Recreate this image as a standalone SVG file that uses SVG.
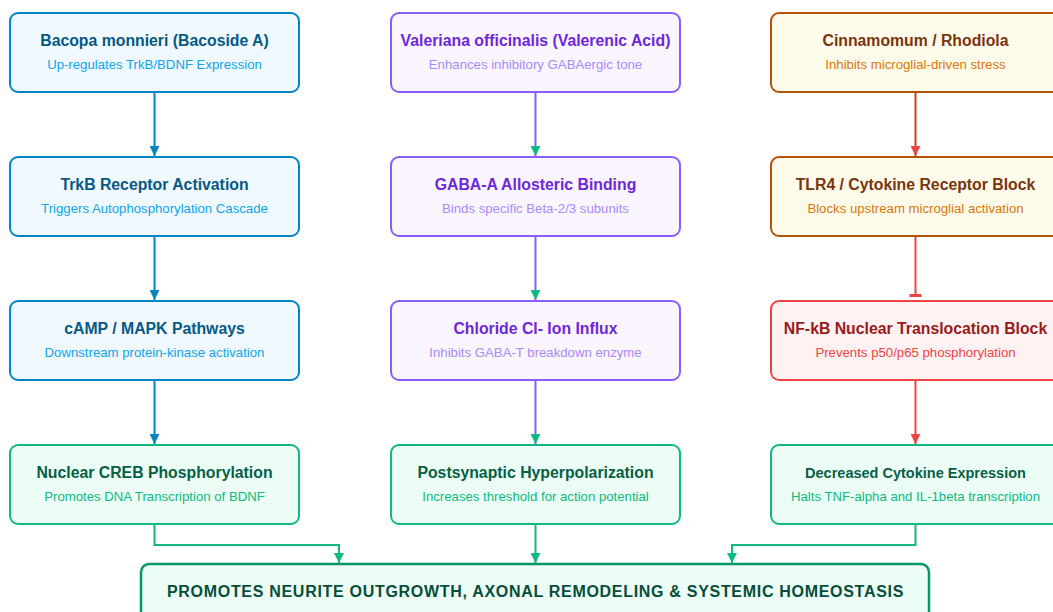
<svg xmlns="http://www.w3.org/2000/svg" width="1053" height="612" viewBox="0 0 1053 612">
<style>
text{font-family:"Liberation Sans",Arial,sans-serif;text-anchor:middle}
.t{font-size:15.8px;font-weight:bold}
.s{font-size:13.2px}
.box{stroke-width:2}
.blue .box{fill:#f0f9ff;stroke:#0284c7}.blue .t{fill:#075985}.blue .s{fill:#0ea5e9}
.purp .box{fill:#faf5ff;stroke:#8b5cf6}.purp .t{fill:#6d28d9}.purp .s{fill:#a78bfa}
.orng .box{fill:#fffbeb;stroke:#b45309}.orng .t{fill:#78350f}.orng .s{fill:#d97706}
.red .box{fill:#fef2f2;stroke:#ef4444}.red .t{fill:#991b1b}.red .s{fill:#ef4444}
.grn .box{fill:#ecfdf5;stroke:#10b981}.grn .t{fill:#065f46}.grn .s{fill:#10b981}
.c{fill:none;stroke-width:2}
</style>
<defs>
<marker id="ab" viewBox="0 0 10 10" refX="10" refY="5" markerWidth="10" markerHeight="10" markerUnits="userSpaceOnUse" orient="auto"><path d="M0,0L10,5L0,10z" fill="#0284c7"/></marker>
<marker id="ag" viewBox="0 0 10 10" refX="10" refY="5" markerWidth="10" markerHeight="10" markerUnits="userSpaceOnUse" orient="auto"><path d="M0,0L10,5L0,10z" fill="#10b981"/></marker>
<marker id="ar" viewBox="0 0 10 10" refX="10" refY="5" markerWidth="10" markerHeight="10" markerUnits="userSpaceOnUse" orient="auto"><path d="M0,0L10,5L0,10z" fill="#ef4444"/></marker>
</defs>
<g id="connectors">
<path class="c" stroke="#0284c7" d="M154.5,92V156" marker-end="url(#ab)"/>
<path class="c" stroke="#0284c7" d="M154.5,236V300" marker-end="url(#ab)"/>
<path class="c" stroke="#0284c7" d="M154.5,380V444" marker-end="url(#ab)"/>
<path class="c" stroke="#8b5cf6" d="M535.5,92V156" marker-end="url(#ag)"/>
<path class="c" stroke="#8b5cf6" d="M535.5,236V300" marker-end="url(#ag)"/>
<path class="c" stroke="#8b5cf6" d="M535.5,380V444" marker-end="url(#ag)"/>
<path class="c" stroke="#c2410c" d="M915.5,92V156" marker-end="url(#ar)"/>
<path class="c" stroke="#ef4444" d="M915.5,236V295"/>
<path stroke="#ef4444" stroke-width="3" d="M909.5,295.5H921.5"/>
<path class="c" stroke="#ef4444" d="M915.5,380V444" marker-end="url(#ar)"/>
<path class="c" stroke="#10b981" d="M154.5,524V545H339V563" marker-end="url(#ag)"/>
<path class="c" stroke="#10b981" d="M535.5,524V563" marker-end="url(#ag)"/>
<path class="c" stroke="#10b981" d="M915.5,524V545H732V563" marker-end="url(#ag)"/>
</g>
<g id="n1" class="blue"><rect class="box" x="10" y="13" width="289" height="79" rx="8"/><text class="t" x="154.5" y="46">Bacopa monnieri (Bacoside A)</text><text class="s" x="154.5" y="69">Up-regulates TrkB/BDNF Expression</text></g>
<g id="n2" class="blue"><rect class="box" x="10" y="157" width="289" height="79" rx="8"/><text class="t" x="154.5" y="190">TrkB Receptor Activation</text><text class="s" x="154.5" y="213">Triggers Autophosphorylation Cascade</text></g>
<g id="n3" class="blue"><rect class="box" x="10" y="301" width="289" height="79" rx="8"/><text class="t" x="154.5" y="334">cAMP / MAPK Pathways</text><text class="s" x="154.5" y="357">Downstream protein-kinase activation</text></g>
<g id="n4" class="grn"><rect class="box" x="10" y="445" width="289" height="79" rx="8"/><text class="t" x="154.5" y="478">Nuclear CREB Phosphorylation</text><text class="s" x="154.5" y="501">Promotes DNA Transcription of BDNF</text></g>
<g id="n5" class="purp"><rect class="box" x="391" y="13" width="289" height="79" rx="8"/><text class="t" x="535.5" y="46">Valeriana officinalis (Valerenic Acid)</text><text class="s" x="535.5" y="69">Enhances inhibitory GABAergic tone</text></g>
<g id="n6" class="purp"><rect class="box" x="391" y="157" width="289" height="79" rx="8"/><text class="t" x="535.5" y="190">GABA-A Allosteric Binding</text><text class="s" x="535.5" y="213">Binds specific Beta-2/3 subunits</text></g>
<g id="n7" class="purp"><rect class="box" x="391" y="301" width="289" height="79" rx="8"/><text class="t" x="535.5" y="334">Chloride Cl- Ion Influx</text><text class="s" x="535.5" y="357">Inhibits GABA-T breakdown enzyme</text></g>
<g id="n8" class="grn"><rect class="box" x="391" y="445" width="289" height="79" rx="8"/><text class="t" x="535.5" y="478">Postsynaptic Hyperpolarization</text><text class="s" x="535.5" y="501">Increases threshold for action potential</text></g>
<g id="n9" class="orng"><rect class="box" x="771" y="13" width="289" height="79" rx="8"/><text class="t" x="915.5" y="46">Cinnamomum / Rhodiola</text><text class="s" x="915.5" y="69">Inhibits microglial-driven stress</text></g>
<g id="n10" class="orng"><rect class="box" x="771" y="157" width="289" height="79" rx="8"/><text class="t" x="915.5" y="190">TLR4 / Cytokine Receptor Block</text><text class="s" x="915.5" y="213">Blocks upstream microglial activation</text></g>
<g id="n11" class="red"><rect class="box" x="771" y="301" width="289" height="79" rx="8"/><text class="t" x="915.5" y="334">NF-kB Nuclear Translocation Block</text><text class="s" x="915.5" y="357">Prevents p50/p65 phosphorylation</text></g>
<g id="n12" class="grn"><rect class="box" x="771" y="445" width="289" height="79" rx="8"/><text class="t" x="915.5" y="478" style="font-size:14.5px">Decreased Cytokine Expression</text><text class="s" x="915.5" y="501">Halts TNF-alpha and IL-1beta transcription</text></g>
<g id="n13"><rect x="141" y="564" width="788" height="62" rx="8" fill="#ecfdf5" stroke="#059669" stroke-width="2.5"/><text x="535.5" y="597" style="font-size:16px;font-weight:bold;fill:#064e3b;letter-spacing:0.7px">PROMOTES NEURITE OUTGROWTH, AXONAL REMODELING &amp; SYSTEMIC HOMEOSTASIS</text></g>
</svg>
